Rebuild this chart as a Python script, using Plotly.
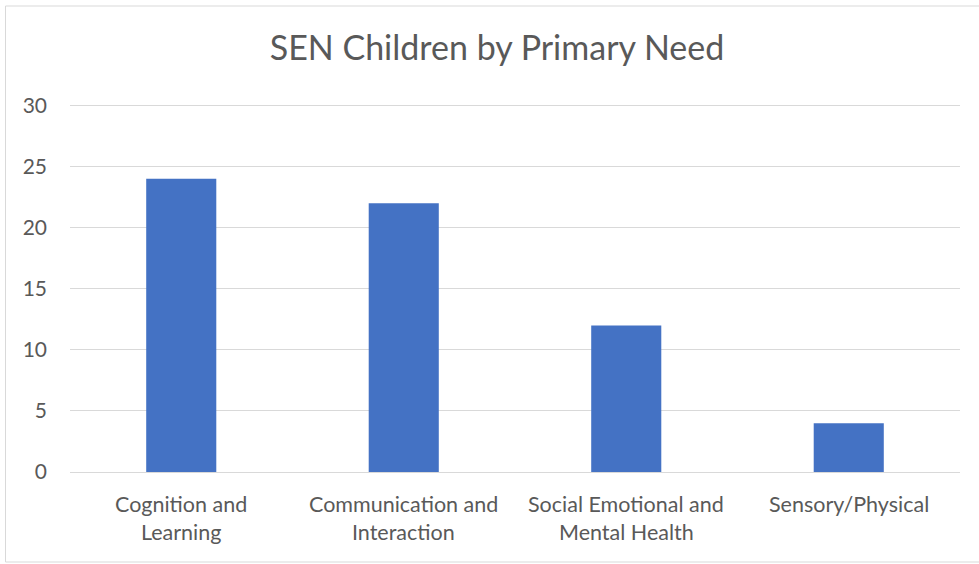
import plotly.graph_objects as go

categories = ["Cognition and\nLearning", "Communication and\nInteraction",
              "Social Emotional and\nMental Health", "Sensory/Physical"]
values = [24, 22, 12, 4]
y_ticks = [0, 5, 10, 15, 20, 25, 30]
y_max = 30.2
title = "SEN Children by Primary Need"

FONT = "Lato, Carlito, Calibri, sans-serif"
GREY = "#595959"

fig = go.Figure(go.Bar(x=categories, y=values, marker_color="#4472C4",
                       marker_line_width=0, hoverinfo="skip"))

W, H = 979, 564
L, R, B = 70, 19, 92
ph30 = 367  # pixels from 0 to 30
ph = ph30 * y_max / 30
T = int(round(H - B - ph))
ph = H - T - B
pw = W - L - R

annotations = []
for c in categories:
    for i, line in enumerate(c.split("\n")):
        annotations.append(dict(x=c, xref="x", y=-32 / ph - i * 28 / ph, yref="paper",
                                text=line, showarrow=False, yanchor="middle",
                                font=dict(family=FONT, size=21.5, color=GREY)))

fig.update_layout(
    width=W, height=H,
    margin=dict(l=L, r=R, t=T, b=B),
    plot_bgcolor="white", paper_bgcolor="white",
    bargap=0.685,
    showlegend=False,
    title=dict(text=title, x=497 / W, xanchor="center", y=1 - 48 / H, yanchor="middle",
               font=dict(family=FONT, size=34, color=GREY)),
    xaxis=dict(showticklabels=False, showgrid=False, showline=True,
               linecolor="#d9d9d9", linewidth=1, ticks="", fixedrange=True),
    yaxis=dict(range=[0, y_max], tickvals=y_ticks, showgrid=True, gridcolor="#d9d9d9",
               gridwidth=1, zeroline=False, showline=False, ticks="",
               ticklabelstandoff=22,
               tickfont=dict(family=FONT, size=21, color=GREY), fixedrange=True),
    annotations=annotations,
    shapes=[dict(type="rect", xref="paper", yref="paper",
                 x0=(5.5 - L) / pw, x1=(990 - L) / pw,
                 y0=-(H - 2 - (H - B)) / ph, y1=((H - B) - 6) / ph,
                 line=dict(color="#d9d9d9", width=1), fillcolor="rgba(0,0,0,0)")],
)

fig.write_html("out.html", config={"displayModeBar": False, "staticPlot": True},
               post_script="document.body.style.margin='0';document.body.style.overflow='hidden';")
